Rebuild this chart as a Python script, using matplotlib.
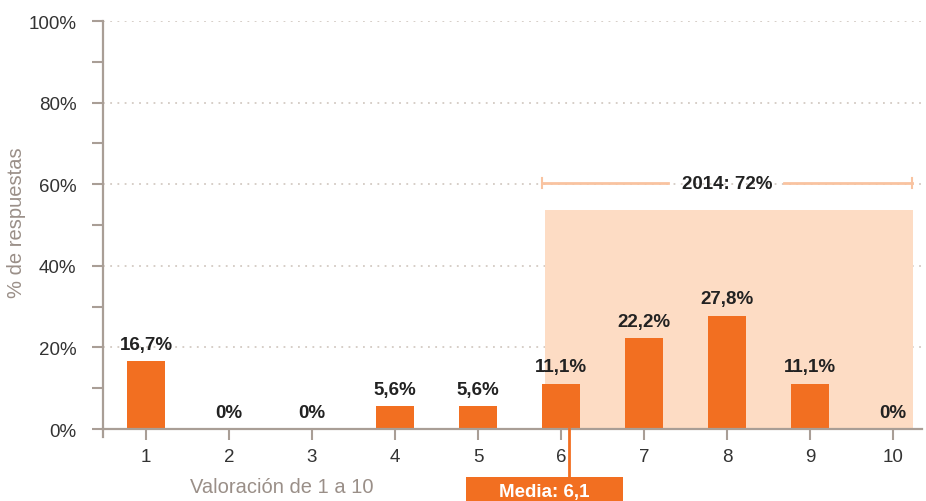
import matplotlib.pyplot as plt
import matplotlib.transforms as mtransforms
from matplotlib.patches import Rectangle

plt.rcParams['font.family'] = ['Liberation Sans', 'DejaVu Sans']

# datos
valoracion = [1, 2, 3, 4, 5, 6, 7, 8, 9, 10]
porcentaje = [16.7, 0, 0, 5.6, 5.6, 11.1, 22.2, 27.8, 11.1, 0]
etiquetas = ['16,7%', '0%', '0%', '5,6%', '5,6%', '11,1%', '22,2%', '27,8%', '11,1%', '0%']
media = 6.1
texto_media = 'Media: 6,1'
texto_2014 = '2014: 72%'
y_ticks = [0, 20, 40, 60, 80, 100]
y_labels = ['0%', '20%', '40%', '60%', '80%', '100%']

naranja = '#f26f21'
sombra = '#fddcc4'
eje = '#a99e96'
gris_texto = '#9a8f88'

fig = plt.figure(figsize=(9.26, 5.02), dpi=100)
ax = fig.add_axes([0.1112, 0.1434, 0.8845, 0.8126])

x_min, x_max = 0.482, 10.349
ax.set_xlim(x_min, x_max)
ax.set_ylim(0, 100)

# zona sombreada 6-10
ax.add_patch(Rectangle((5.807, 0), 10.241 - 5.807, 53.7, color=sombra, lw=0, zorder=1))

# rejilla punteada
for y in y_ticks[1:]:
    ax.axhline(y, color='#d3cac3', lw=1.3, ls=(0, (1, 3)), zorder=0.5)

ax.bar(valoracion, porcentaje, width=0.458, color=naranja, zorder=2)
for x, v, t in zip(valoracion, porcentaje, etiquetas):
    ax.annotate(t, (x, v), xytext=(0, 6), textcoords='offset points',
                ha='center', va='bottom', fontsize=13.5, fontweight='bold',
                color='#222222', zorder=3)

# corchete 2014
b_izq, b_der, b_y = 5.771, 10.229, 60.3
ax.plot([b_izq, 7.29], [b_y, b_y], color='#f9c3a0', lw=2, zorder=3)
ax.plot([8.69, b_der], [b_y, b_y], color='#f9c3a0', lw=2, zorder=3)
ax.plot([b_izq, b_izq], [b_y - 1.2, b_y + 1.2], color='#f9c3a0', lw=1.5, zorder=3)
ax.plot([b_der, b_der], [b_y - 1.2, b_y + 1.2], color='#f9c3a0', lw=1.5, zorder=3)
ax.text(8.0, b_y, texto_2014, ha='center', va='center', fontsize=13.5,
        fontweight='bold', color='#222222', zorder=4)

# ejes
for s in ['top', 'right']:
    ax.spines[s].set_visible(False)
for s in ['left', 'bottom']:
    ax.spines[s].set_color(eje)
    ax.spines[s].set_linewidth(1.6)
ax.plot([x_min, x_min], [0, -2], color=eje, lw=1.6, clip_on=False)

ax.set_yticks(y_ticks)
ax.set_yticklabels(y_labels)
ax.set_yticks([10, 30, 50, 70, 90], minor=True)
ax.set_xticks(valoracion)
ax.set_xticklabels([str(v) for v in valoracion])
ax.tick_params(axis='both', which='both', direction='out', length=8, width=1.5,
               color=eje, labelsize=13.5, labelcolor='#333333')
ax.tick_params(axis='y', pad=11)
ax.tick_params(axis='x', pad=6)

fig.text(17 / 926, 1 - 223 / 502, '% de respuestas', rotation=90, ha='center', va='center',
         fontsize=14.5, color=gris_texto)
fig.text(282 / 926, 1 - 488 / 502, 'Valoración de 1 a 10', ha='center', va='center',
         fontsize=14.5, color=gris_texto)

# media
trans = mtransforms.blended_transform_factory(ax.transData, fig.transFigure)
ax.plot([media, media], [1 - 430 / 502, 1 - 478 / 502], color=naranja, lw=2,
        transform=trans, clip_on=False, zorder=5)
ax.add_patch(Rectangle((4.855, 0), 6.747 - 4.855, 1 - 478 / 502, color=naranja, lw=0,
                       transform=trans, clip_on=False, zorder=5))
ax.text(5.80, 0.018, texto_media, ha='center', va='center', fontsize=13.5,
        fontweight='bold', color='white', transform=trans, zorder=6)

fig.savefig('out.png', dpi=100)
